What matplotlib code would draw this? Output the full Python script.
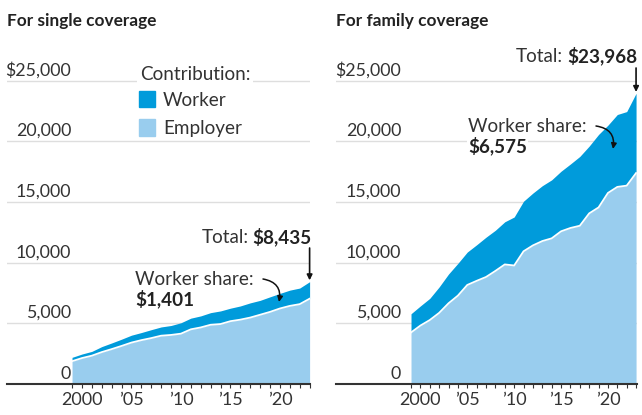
import matplotlib
matplotlib.use('Agg')
from matplotlib import pyplot as plt
from matplotlib.patches import Rectangle

plt.rcParams['font.family'] = ['Lato', 'DejaVu Sans']

years = list(range(1999, 2024))

# average annual premiums, single coverage
single_total = [2196, 2471, 2689, 3083, 3383, 3695, 4024, 4242, 4479, 4704, 4824, 5049, 5429,
                5615, 5884, 6025, 6251, 6435, 6690, 6896, 7188, 7470, 7739, 7911, 8435]
single_worker = [318, 334, 355, 454, 508, 558, 610, 627, 694, 721, 779, 899, 921,
                 951, 999, 1081, 1071, 1129, 1213, 1186, 1242, 1243, 1299, 1327, 1401]

# average annual premiums, family coverage
family_total = [5791, 6438, 7061, 8003, 9068, 9950, 10880, 11480, 12106, 12680, 13375, 13770, 15073,
                15745, 16351, 16834, 17545, 18142, 18764, 19616, 20576, 21342, 22221, 22463, 23968]
family_worker = [1543, 1619, 1787, 2137, 2412, 2661, 2713, 2973, 3281, 3354, 3515, 3997, 4129,
                 4316, 4565, 4823, 4955, 5277, 5714, 5547, 6015, 5588, 5969, 6106, 6575]

y_grid = [0, 5000, 10000, 15000, 20000, 25000]
y_labels = ['0', '5,000', '10,000', '15,000', '20,000', '$25,000']
x_ticks = [2000, 2005, 2010, 2015, 2020]
x_labels = ['2000', '\u201905', '\u201910', '\u201915', '\u201920']

WORKER = '#009bdb'
EMPLOYER = '#99cdee'
GRID = '#dedede'
TEXT = '#333333'
FS = 13.6

W, H = 642, 415
fig = plt.figure(figsize=(W / 100, H / 100), dpi=100)


def fx(px):
    return px / W


def fy(py):
    return 1 - py / H


def draw_panel(left, width, xmin, xmax, total, worker, label_x, title):
    ax = fig.add_axes([fx(left), fy(384), fx(width), (384 - 50.5) / H])
    employer = [t - w for t, w in zip(total, worker)]
    ax.fill_between(years, 0, employer, color=EMPLOYER, lw=0, zorder=2)
    ax.fill_between(years, employer, total, color=WORKER, lw=0, zorder=2)
    ax.plot(years, employer, color='white', lw=1.3, zorder=3)
    ax.set_xlim(xmin, xmax)
    ax.set_ylim(0, 27500)

    for val, lab in zip(y_grid, y_labels):
        if val > 0:
            ax.axhline(val, color=GRID, lw=1, zorder=1)
        ax.text(label_x, val + 450, lab, transform=ax.get_yaxis_transform(),
                ha='right', va='baseline', fontsize=12.8, color=TEXT, zorder=1)

    for s in ['top', 'right', 'left']:
        ax.spines[s].set_visible(False)
    ax.spines['bottom'].set_color(TEXT)
    ax.spines['bottom'].set_linewidth(1.5)
    ax.spines['bottom'].set_zorder(5)
    ax.set_yticks([])
    ax.set_xticks(years)
    ax.set_xticklabels([x_labels[x_ticks.index(y)] if y in x_ticks else '' for y in years])
    ax.tick_params(axis='x', length=3, width=0.8, color=TEXT, labelsize=13,
                   labelcolor=TEXT, pad=3)
    fig.text(fx(left), fy(26), title, fontsize=12.4, fontweight='bold', color='#222222')
    return ax


ax1 = draw_panel(7, 303, 1992.43, 2023.04, single_total, single_worker, 0.212, 'For single coverage')
ax2 = draw_panel(336, 301, 1991.0, 2023.1, family_total, family_worker, 0.216, 'For family coverage')

# legend
fig.text(fx(140), fy(80), 'Contribution:', fontsize=FS, color=TEXT,
         bbox=dict(facecolor='white', edgecolor='none', pad=2))
fig.add_artist(Rectangle((fx(139), fy(107)), fx(16), 16 / H, color=WORKER, transform=fig.transFigure))
fig.add_artist(Rectangle((fx(139), fy(136)), fx(16), 17 / H, color=EMPLOYER, transform=fig.transFigure))
fig.text(fx(163), fy(106), 'Worker', fontsize=FS, color=TEXT)
fig.text(fx(163), fy(134), 'Employer', fontsize=FS, color=TEXT)


def total_label(ax, right_px, base_px, value, arrow_top_px):
    bold = fig.text(fx(right_px), fy(base_px), f'${value:,}', fontsize=FS, fontweight='bold',
                    color='#222222', ha='right', va='baseline')
    ax.annotate('Total:', xy=(0, 0), xycoords=bold, xytext=(-3, 0), textcoords='offset points',
                ha='right', va='bottom', fontsize=FS, color=TEXT)
    ax.annotate('', xy=(years[-1], value), xycoords='data',
                xytext=(years[-1], ax.transData.inverted().transform((0, H - arrow_top_px))[1]),
                arrowprops=dict(arrowstyle='-|>', color='#111111', lw=1.2, mutation_scale=8,
                                shrinkA=0, shrinkB=1))


def worker_label(ax, left_px, base_px, value, start_px, end_px):
    fig.text(fx(left_px), fy(base_px), 'Worker share:', fontsize=FS, color=TEXT,
             bbox=dict(facecolor='white', edgecolor='none', pad=1))
    fig.text(fx(left_px), fy(base_px + 20), f'${value:,}', fontsize=FS, fontweight='bold',
             color='#222222', bbox=dict(facecolor='white', edgecolor='none', pad=1))
    ax.annotate('', xy=(end_px[0], H - end_px[1]), xycoords='figure pixels',
                xytext=(start_px[0], H - start_px[1]), textcoords='figure pixels',
                arrowprops=dict(arrowstyle='-|>', color='#111111', lw=1.1, mutation_scale=8,
                                shrinkA=0, shrinkB=0, connectionstyle='arc3,rad=-0.5'))


total_label(ax1, 312, 243, single_total[-1], 248)
total_label(ax2, 637, 62, family_total[-1], 68)
worker_label(ax1, 135, 285, single_worker[-1], (263, 279), (279, 302))
worker_label(ax2, 468, 132, family_worker[-1], (596, 126), (613, 149))

plt.savefig('out.png', dpi=100)
plt.close()
